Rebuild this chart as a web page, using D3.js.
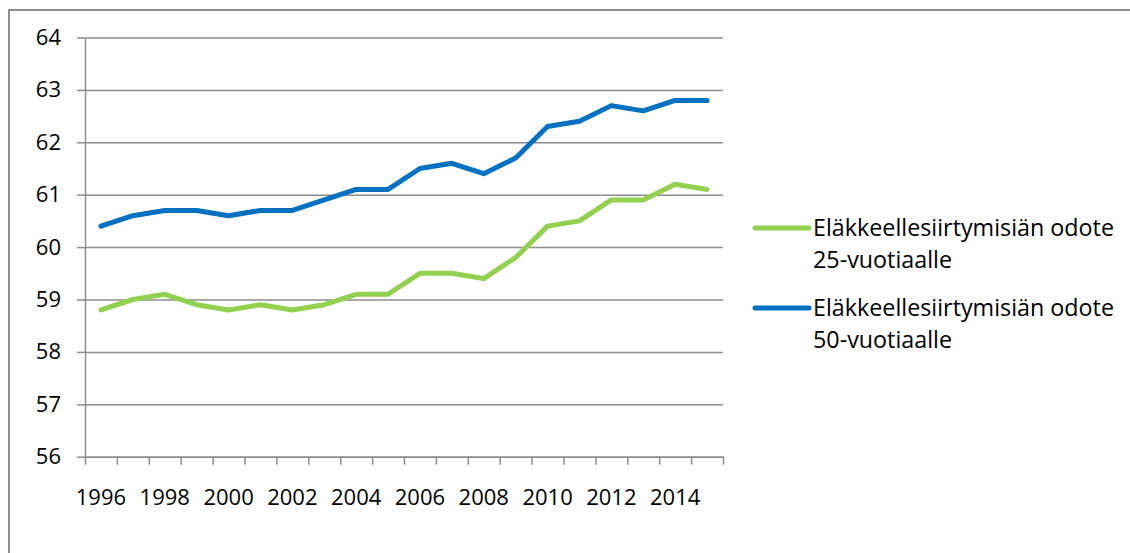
<!DOCTYPE html>
<html>
<head>
  <meta charset="utf-8">
  <title>Eläkkeellesiirtymisiän odote</title>
  <style>
    body { margin: 0; background: #fff; }
    text { font-family: "Open Sans", sans-serif; fill: #000; }
  </style>
</head>
<body>
  <div id="chart"></div>

  <script src="https://d3js.org/d3.v7.min.js"></script>
  <script>
    var years = [1996, 1997, 1998, 1999, 2000, 2001, 2002, 2003, 2004, 2005,
                 2006, 2007, 2008, 2009, 2010, 2011, 2012, 2013, 2014, 2015];
    var odote25 = [58.8, 59.0, 59.1, 58.9, 58.8, 58.9, 58.8, 58.9, 59.1, 59.1,
                   59.5, 59.5, 59.4, 59.8, 60.4, 60.5, 60.9, 60.9, 61.2, 61.1];
    var odote50 = [60.4, 60.6, 60.7, 60.7, 60.6, 60.7, 60.7, 60.9, 61.1, 61.1,
                   61.5, 61.6, 61.4, 61.7, 62.3, 62.4, 62.7, 62.6, 62.8, 62.8];
    var yTicks = [56, 57, 58, 59, 60, 61, 62, 63, 64];
    var xLabels = [1996, 1998, 2000, 2002, 2004, 2006, 2008, 2010, 2012, 2014];
    var seriesNames = [["Eläkkeellesiirtymisiän odote", "25-vuotiaalle"],
                       ["Eläkkeellesiirtymisiän odote", "50-vuotiaalle"]];
    var colors = ["#92D050", "#0070C0"];

    var W = 1130, H = 553;
    var margin = {top: 37.5, left: 85},
        width = 638,
        height = 419.2;

    var svg = d3.select("#chart")
        .append("svg")
        .attr("width", W)
        .attr("height", H);

    // outer chart frame (cropped on the right and bottom)
    svg.append("path")
        .attr("d", "M9," + H + "V10H" + W)
        .attr("fill", "none")
        .attr("stroke", "#8f8f8f")
        .attr("stroke-width", 2);

    var g = svg.append("g")
        .attr("transform", "translate(" + margin.left + "," + margin.top + ")");

    var x = d3.scaleBand().domain(years).range([0, width]);
    var xEdge = d3.scaleLinear().domain([0, years.length]).range([0, width]);
    var y = d3.scaleLinear().domain([56, 64]).range([height, 0]);

    // gridlines
    g.append("g")
        .call(d3.axisLeft(y).tickValues(yTicks).tickSize(-width).tickFormat(""))
        .call(function(s) {
          s.select(".domain").remove();
          s.selectAll("line").attr("stroke", "#8c8c8c").attr("stroke-width", 1.5);
        });

    // y axis with ticks
    g.append("g")
        .call(d3.axisLeft(y).tickValues(yTicks).tickSize(8).tickSizeOuter(0).tickPadding(16))
        .call(function(s) {
          s.select(".domain").attr("stroke", "#8c8c8c").attr("stroke-width", 1.5);
          s.selectAll("line").attr("stroke", "#8c8c8c").attr("stroke-width", 1.5);
          s.selectAll("text").attr("font-size", 22).attr("font-family", "Open Sans, sans-serif");
        });

    // x axis tick marks at category edges
    g.append("g")
        .attr("transform", "translate(0," + height + ")")
        .call(d3.axisBottom(xEdge).tickValues(d3.range(years.length + 1)).tickSize(8).tickSizeOuter(0).tickFormat(""))
        .call(function(s) {
          s.select(".domain").attr("stroke", "#8c8c8c").attr("stroke-width", 1.5);
          s.selectAll("line").attr("stroke", "#8c8c8c").attr("stroke-width", 1.5);
        });

    // x labels every other year
    g.append("g")
        .attr("transform", "translate(0," + height + ")")
        .call(d3.axisBottom(x).tickValues(xLabels).tickSize(0).tickPadding(33))
        .call(function(s) {
          s.select(".domain").remove();
          s.selectAll("text").attr("font-size", 22).attr("font-family", "Open Sans, sans-serif");
        });

    var line = d3.line()
        .x(function(d, i) { return x(years[i]) + x.bandwidth() / 2; })
        .y(function(d) { return y(d); });

    [odote25, odote50].forEach(function(vals, i) {
      g.append("path")
          .datum(vals)
          .attr("d", line)
          .attr("fill", "none")
          .attr("stroke", colors[i])
          .attr("stroke-width", 5)
          .attr("stroke-linejoin", "round")
          .attr("stroke-linecap", "round");
    });

    // legend
    var legend = svg.append("g").attr("transform", "translate(755,228)");
    seriesNames.forEach(function(name, i) {
      var item = legend.append("g").attr("transform", "translate(0," + (i * 80) + ")");
      item.append("line")
          .attr("x1", 0).attr("x2", 54)
          .attr("stroke", colors[i])
          .attr("stroke-width", 5)
          .attr("stroke-linecap", "round");
      item.selectAll("text")
          .data(name)
          .enter()
          .append("text")
          .attr("x", 58)
          .attr("y", function(d, j) { return 8 + j * 32; })
          .attr("font-size", 23.3)
          .text(function(d) { return d; });
    });
  </script>
</body>
</html>
